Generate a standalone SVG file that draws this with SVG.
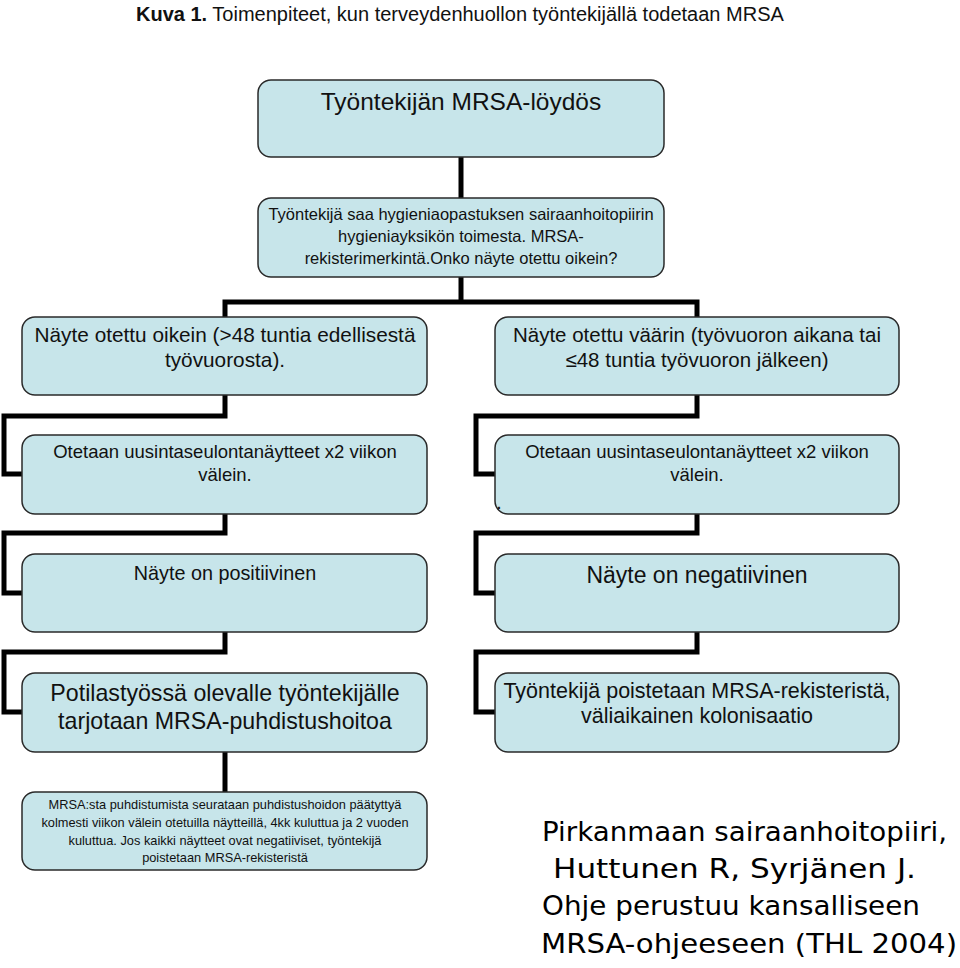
<svg xmlns="http://www.w3.org/2000/svg" width="960" height="968" viewBox="0 0 960 968">
<style>
.box{fill:#c7e5ea;stroke:#2a2a2a;stroke-width:1.5}
.t{font-family:"Liberation Sans",Arial,sans-serif;fill:#111;text-anchor:middle}
.con{fill:none;stroke:#000;stroke-width:5;stroke-linejoin:miter;stroke-linecap:butt}
.cm{font-family:"Comic Sans MS","DejaVu Sans",sans-serif;font-size:27px;fill:#000}
</style>
<rect width="960" height="968" fill="#fff"/>
<text x="136" y="21" font-family="'Liberation Sans',Arial,sans-serif" font-size="20" fill="#111"><tspan font-weight="bold">Kuva 1.</tspan> Toimenpiteet, kun terveydenhuollon työntekijällä todetaan MRSA</text>
<g id="connectors">
<path class="con" d="M461,157 V198"/>
<path class="con" d="M461,277 V302"/>
<path class="con" d="M225,317 V302 H697 V317"/>
<path class="con" d="M225,395 V416 H4 V474 H22"/>
<path class="con" d="M697,395 V416 H476 V474 H495"/>
<path class="con" d="M225,514 V533 H4 V593 H22"/>
<path class="con" d="M697,514 V533 H476 V593 H495"/>
<path class="con" d="M225,632 V652 H4 V712 H22"/>
<path class="con" d="M697,632 V652 H476 V712 H495"/>
<path class="con" d="M225,752 V792"/>
</g>
<g id="n1"><rect class="box" x="258" y="80" width="406" height="77" rx="13"/>
<text class="t" x="461" y="110" font-size="24.5">Työntekijän MRSA-löydös</text></g>
<g id="n2"><rect class="box" x="258" y="198" width="406" height="79" rx="13"/>
<text class="t" x="461" y="220" font-size="16.5">Työntekijä saa hygieniaopastuksen sairaanhoitopiirin</text>
<text class="t" x="461" y="242" font-size="16.5">hygieniayksikön toimesta. MRSA-</text>
<text class="t" x="461" y="264" font-size="16.5">rekisterimerkintä.Onko näyte otettu oikein?</text></g>
<g id="n3"><rect class="box" x="22" y="317" width="405" height="78" rx="13"/>
<text class="t" x="225" y="342" font-size="20.8">Näyte otettu oikein (&gt;48 tuntia edellisestä</text>
<text class="t" x="225" y="367" font-size="20.8">työvuorosta).</text></g>
<g id="n4"><rect class="box" x="495" y="317" width="404" height="78" rx="13"/>
<text class="t" x="697" y="342" font-size="20.5">Näyte otettu väärin (työvuoron aikana tai</text>
<text class="t" x="697" y="367" font-size="20.5">≤48 tuntia työvuoron jälkeen)</text></g>
<g id="n5"><rect class="box" x="22" y="435" width="405" height="79" rx="13"/>
<text class="t" x="225" y="458" font-size="18.5">Otetaan uusintaseulontanäytteet x2 viikon</text>
<text class="t" x="225" y="481" font-size="18.5">välein.</text></g>
<g id="n6"><rect class="box" x="495" y="435" width="404" height="79" rx="13"/>
<text class="t" x="697" y="458" font-size="18.5">Otetaan uusintaseulontanäytteet x2 viikon</text>
<text class="t" x="697" y="481" font-size="18.5">välein.</text>
<text x="497" y="509" font-family="'Liberation Sans',Arial,sans-serif" font-size="14" font-weight="bold" fill="#111">.</text></g>
<g id="n7"><rect class="box" x="22" y="554" width="405" height="78" rx="13"/>
<text class="t" x="225" y="580" font-size="19.8">Näyte on positiivinen</text></g>
<g id="n8"><rect class="box" x="495" y="554" width="404" height="78" rx="13"/>
<text class="t" x="697" y="583" font-size="23">Näyte on negatiivinen</text></g>
<g id="n9"><rect class="box" x="22" y="673" width="405" height="79" rx="13"/>
<text class="t" x="225" y="701" font-size="23.2">Potilastyössä olevalle työntekijälle</text>
<text class="t" x="225" y="729" font-size="23.2">tarjotaan MRSA-puhdistushoitoa</text></g>
<g id="n10"><rect class="box" x="495" y="673" width="404" height="79" rx="13"/>
<text class="t" x="697" y="698" font-size="21.5">Työntekijä poistetaan MRSA-rekisteristä,</text>
<text class="t" x="697" y="723" font-size="21.5">väliaikainen kolonisaatio</text></g>
<g id="n11"><rect class="box" x="22" y="792" width="405" height="78" rx="13"/>
<text class="t" x="225" y="809" font-size="12.8">MRSA:sta puhdistumista seurataan puhdistushoidon päätyttyä</text>
<text class="t" x="225" y="827" font-size="12.8">kolmesti viikon välein otetuilla näytteillä, 4kk kuluttua ja 2 vuoden</text>
<text class="t" x="225" y="845" font-size="12.8">kuluttua.  Jos kaikki näytteet ovat negatiiviset, työntekijä</text>
<text class="t" x="225" y="862" font-size="12.8">poistetaan MRSA-rekisteristä</text></g>
<g id="credit">
<text class="cm" x="542" y="841" textLength="405" lengthAdjust="spacingAndGlyphs">Pirkanmaan sairaanhoitopiiri,</text>
<text class="cm" x="553" y="878" textLength="363" lengthAdjust="spacingAndGlyphs">Huttunen R, Syrjänen J.</text>
<text class="cm" x="542" y="915" textLength="378" lengthAdjust="spacingAndGlyphs">Ohje perustuu kansalliseen</text>
<text class="cm" x="541" y="953" textLength="416" lengthAdjust="spacingAndGlyphs">MRSA-ohjeeseen (THL 2004)</text>
</g>
</svg>
